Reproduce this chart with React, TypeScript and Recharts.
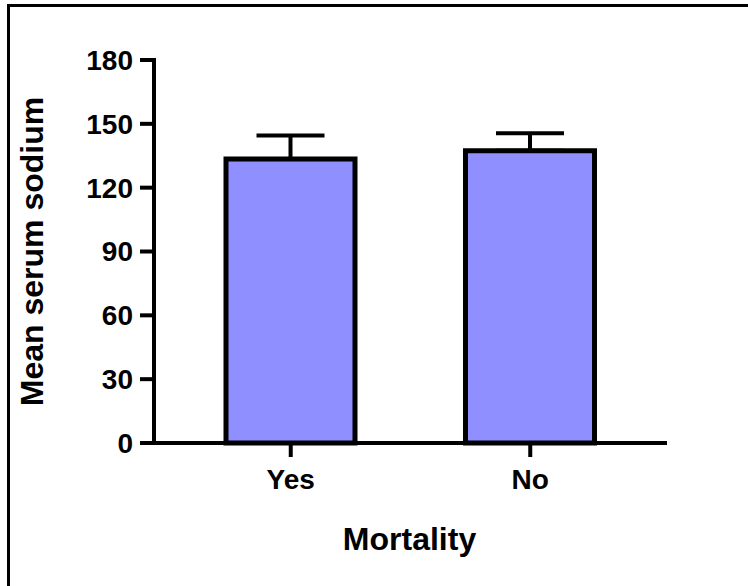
import { BarChart, Bar, XAxis, YAxis, ErrorBar, Label } from 'recharts';

const groups = ['Yes', 'No'];
const meanSodium = [133.5, 137.4];
const sdUpper = [11, 8.2];
const yTicks = [0, 30, 60, 90, 120, 150, 180];

const data = groups.map((g, i) => ({
  group: g,
  mean: meanSodium[i],
  err: [0, sdUpper[i]],
}));

const FONT = '"Liberation Sans", Arial, Helvetica, sans-serif';

export default function App() {
  return (
    <div style={{ position: 'fixed', left: 0, top: 0, width: 748, height: 586, background: '#fff', overflow: 'hidden' }}>
      {/* frame: only top and left edges fall inside the picture */}
      <div
        style={{
          position: 'absolute',
          left: 7,
          top: 4,
          width: 800,
          height: 700,
          borderTop: '3px solid #000',
          borderLeft: '3px solid #000',
        }}
      />
      <div style={{ position: 'absolute', left: 0, top: 0 }}>
        <BarChart
          width={748}
          height={586}
          data={data}
          margin={{ top: 60, right: 83, left: 0, bottom: 0 }}
          style={{ fontFamily: FONT }}
        >
          <XAxis
            dataKey="group"
            height={143}
            padding={{ left: 17, right: 15 }}
            axisLine={{ stroke: '#000', strokeWidth: 4, strokeLinecap: 'square' }}
            tickLine={{ stroke: '#000', strokeWidth: 4 }}
            tickSize={14}
            tickMargin={12}
            tick={{ fill: '#000', fontSize: 28, fontWeight: 700, fontFamily: FONT }}
          >
            <Label
              content={({ viewBox }: any) => (
                <text
                  x={viewBox.x + viewBox.width / 2}
                  y={550}
                  textAnchor="middle"
                  fill="#000"
                  fontSize={32}
                  fontWeight={700}
                  fontFamily={FONT}
                >
                  Mortality
                </text>
              )}
            />
          </XAxis>
          <YAxis
            width={154}
            domain={[0, 180]}
            ticks={yTicks}
            interval={0}
            axisLine={{ stroke: '#000', strokeWidth: 4, strokeLinecap: 'square' }}
            tickLine={{ stroke: '#000', strokeWidth: 4 }}
            tickSize={14}
            tickMargin={7}
            tick={{ fill: '#000', fontSize: 28, fontWeight: 700, fontFamily: FONT }}
          >
            <Label
              content={({ viewBox }: any) => {
                const cy = viewBox.y + viewBox.height / 2;
                return (
                  <text
                    x={43}
                    y={cy}
                    transform={`rotate(-90, 43, ${cy})`}
                    textAnchor="middle"
                    fill="#000"
                    fontSize={32}
                    fontWeight={700}
                    fontFamily={FONT}
                  >
                    Mean serum sodium
                  </text>
                );
              }}
            />
          </YAxis>
          <Bar dataKey="mean" fill="#8f8fff" stroke="#000" strokeWidth={5} barSize={129} isAnimationActive={false}>
            <ErrorBar dataKey="err" width={34} stroke="#000" strokeWidth={4} isAnimationActive={false} />
          </Bar>
        </BarChart>
      </div>
    </div>
  );
}
